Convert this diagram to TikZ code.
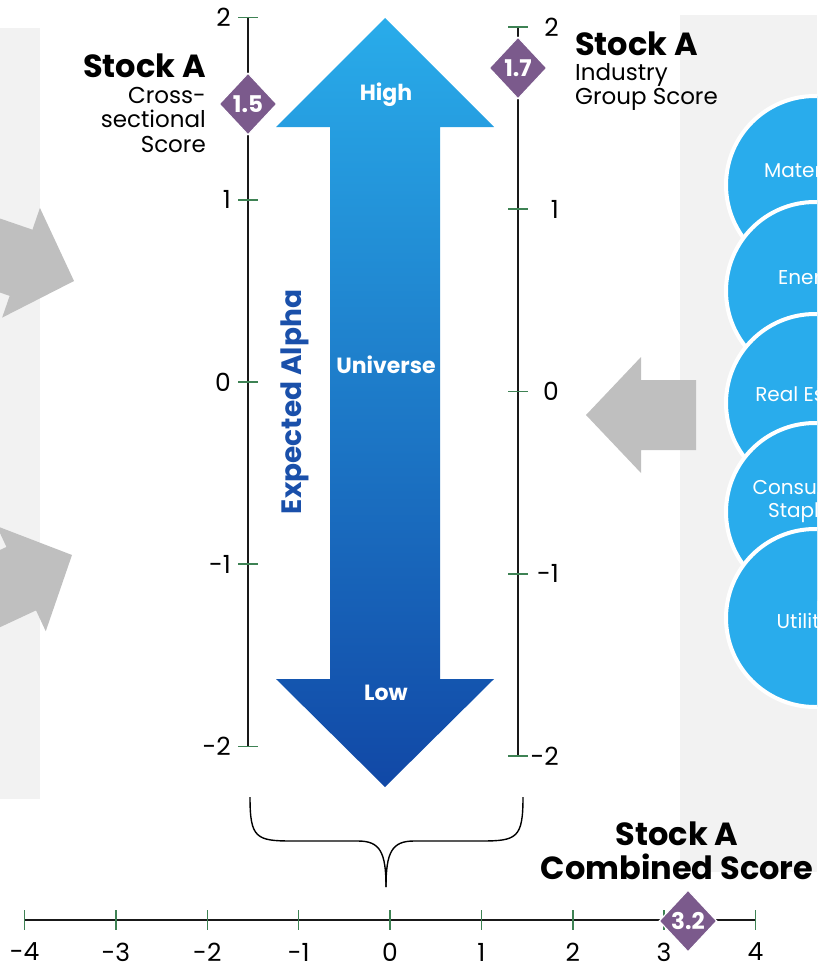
\documentclass[tikz,border=0pt]{standalone}
\usepackage{fontspec}
\setmainfont{Poppins}
\usetikzlibrary{shapes.geometric}

\definecolor{panelgray}{RGB}{242,242,242}
\definecolor{arrowgray}{RGB}{191,191,191}
\definecolor{tickgreen}{RGB}{62,130,84}
\definecolor{scorepurple}{RGB}{123,90,140}
\definecolor{alphalight}{RGB}{41,172,234}
\definecolor{alphadark}{RGB}{17,72,166}
\definecolor{alphatext}{RGB}{26,80,170}
\definecolor{sectorblue}{RGB}{41,172,236}

\tikzset{
  axisline/.style={line width=1.6pt, black!90},
  tickmark/.style={line width=1.6pt, tickgreen},
  ticklabel/.style={font=\fontsize{25}{25}\selectfont, inner sep=0pt},
  scorebox/.style={diamond, fill=scorepurple, draw=white, line width=1.2pt, minimum width=58pt, minimum height=62pt, inner sep=0pt, text=white, font=\fontsize{23}{23}\selectfont\bfseries},
  stocktitle/.style={font=\fontsize{32}{34}\selectfont\bfseries, inner sep=0pt},
  stocksub/.style={font=\fontsize{23}{24.5}\selectfont, inner sep=0pt},
  arrowlabel/.style={text=white, font=\fontsize{22}{22}\selectfont\bfseries},
  sector/.style={circle, fill=sectorblue, draw=white, line width=4pt, minimum size=178pt, inner sep=0pt},
  sectortext/.style={text=white, align=center, font=\fontsize{20}{23}\selectfont},
}

\begin{document}
\begin{tikzpicture}[x=1pt,y=-1pt]

    \useasboundingbox (0,0) rectangle (817,966);
    \begin{scope}
    \clip (0,0) rectangle (817,966);

    %%%%%%%%%%%%%%%%%%% Panels %%%%%%%%%%%%%%%%%%%%%%%%%%%%%%%
    \fill [panelgray] (0,28) rectangle (40,799);
    \fill [panelgray] (680,15) rectangle (817,872);

    %%%%%%%%%%%%%%%%%%% Gray arrows %%%%%%%%%%%%%%%%%%%%%%%%%%
    \begin{scope}[shift={(74,281)},rotate=-19]
    \fill [arrowgray] (0,0) -- (-56,58) -- (-56,35) -- (-200,35) -- (-200,-35) -- (-56,-35) -- (-56,-58) -- cycle;
    \end{scope}
    \begin{scope}[shift={(72,555)},rotate=25]
    \fill [arrowgray] (0,0) -- (-56,58) -- (-56,35) -- (-200,35) -- (-200,-35) -- (-56,-35) -- (-56,-58) -- cycle;
    \end{scope}
    \fill [arrowgray] (586,415) -- (641,357) -- (641,380) -- (696,380) -- (696,450) -- (641,450) -- (641,473) -- cycle;

    %%%%%%%%%%%%%%%%%%% Sectors %%%%%%%%%%%%%%%%%%%%%%%%%%%%%%
    \node [sector] (materials) at (815,185) {};
    \node [sector] (energy) at (815,291) {};
    \node [sector] (realestate) at (815,403) {};
    \node [sector] (staples) at (815,512) {};
    \node [sector] (utilities) at (815,618) {};
    \node [sectortext] (materialsText) at (810,170) {Materials};
    \node [sectortext] (energyText) at (812,280) {Energy};
    \node [sectortext] (realestateText) at (810,394) {Real Estate};
    \node [sectortext] (staplesText) at (805,502) {Consumer\\Staples};
    \node [sectortext] (utilitiesText) at (812,621) {Utilities};

    %%%%%%%%%%%%%%%%%%% Left axis %%%%%%%%%%%%%%%%%%%%%%%%%%%%
    \draw [axisline] (248,17) -- (248,746);
    \foreach \v in {2,1,0,-1,-2} {
        \draw [tickmark] (238,{382-182.25*(\v)}) -- (258,{382-182.25*(\v)});
        \node [ticklabel,anchor=east] (crossLabel\v) at (231,{382-182.25*(\v)}) {\v};
    }

    %%%%%%%%%%%%%%%%%%% Right axis %%%%%%%%%%%%%%%%%%%%%%%%%%%
    \draw [axisline] (518,27) -- (518,756);
    \foreach \v in {2,1,0,-1,-2} {
        \draw [tickmark] (508,{391.5-182.25*(\v)}) -- (528,{391.5-182.25*(\v)});
        \node [ticklabel,anchor=east] (groupLabel\v) at (559,{391.5-182.25*(\v)}) {\v};
    }

    %%%%%%%%%%%%%%%%%%% Expected alpha arrow %%%%%%%%%%%%%%%%%
    \shade [top color=alphalight,bottom color=alphadark] (385,18) -- (494,127) -- (440,127) -- (440,679) -- (494,679) -- (385,787) -- (276,679) -- (330,679) -- (330,127) -- (276,127) -- cycle;
    \node [arrowlabel] (high) at (386,95) {High};
    \node [arrowlabel] (universe) at (386,365) {Universe};
    \node [arrowlabel] (low) at (386,693) {Low};
    \node [rotate=90,text=alphatext,font=\fontsize{28}{28}\selectfont\bfseries] (alpha) at (295,402) {Expected Alpha};

    %%%%%%%%%%%%%%%%%%% Scores %%%%%%%%%%%%%%%%%%%%%%%%%%%%%%%
    \node [scorebox] (crossScore) at (248,104) {1.5};
    \node [scorebox] (groupScore) at (518,68) {1.7};
    \node [stocktitle,anchor=east] (crossTitle) at (206,66) {Stock A};
    \node [stocksub,anchor=north east,align=right] (crossSub) at (206,87) {Cross-\\sectional\\Score};
    \node [stocktitle,anchor=west] (groupTitle) at (575,44) {Stock A};
    \node [stocksub,anchor=north west,align=left] (groupSub) at (575,63) {Industry\\Group Score};

    % Brace
    \draw [line width=1.4pt] (250,797) .. controls (250,838) and (256,841) .. (292,841) -- (358,841) .. controls (380,841) and (386,852) .. (386,887);
    \draw [line width=1.4pt] (523,797) .. controls (523,838) and (517,841) .. (481,841) -- (414,841) .. controls (392,841) and (386,852) .. (386,887);

    %%%%%%%%%%%%%%%%%%% Combined axis %%%%%%%%%%%%%%%%%%%%%%%%
    \draw [axisline] (24,920) -- (755,920);
    \foreach \v in {-4,...,4} {
        \draw [tickmark] ({390+91.35*(\v)},910) -- ({390+91.35*(\v)},930);
        \node [ticklabel] (combLabel\v) at ({390+91.35*(\v)},952) {\v};
    }
    \node [scorebox] (combScore) at (688,921) {3.2};
    \node [stocktitle,align=center] (combTitle) at (677,851) {Stock A\\Combined Score};

    \end{scope}

\end{tikzpicture}
\end{document}
